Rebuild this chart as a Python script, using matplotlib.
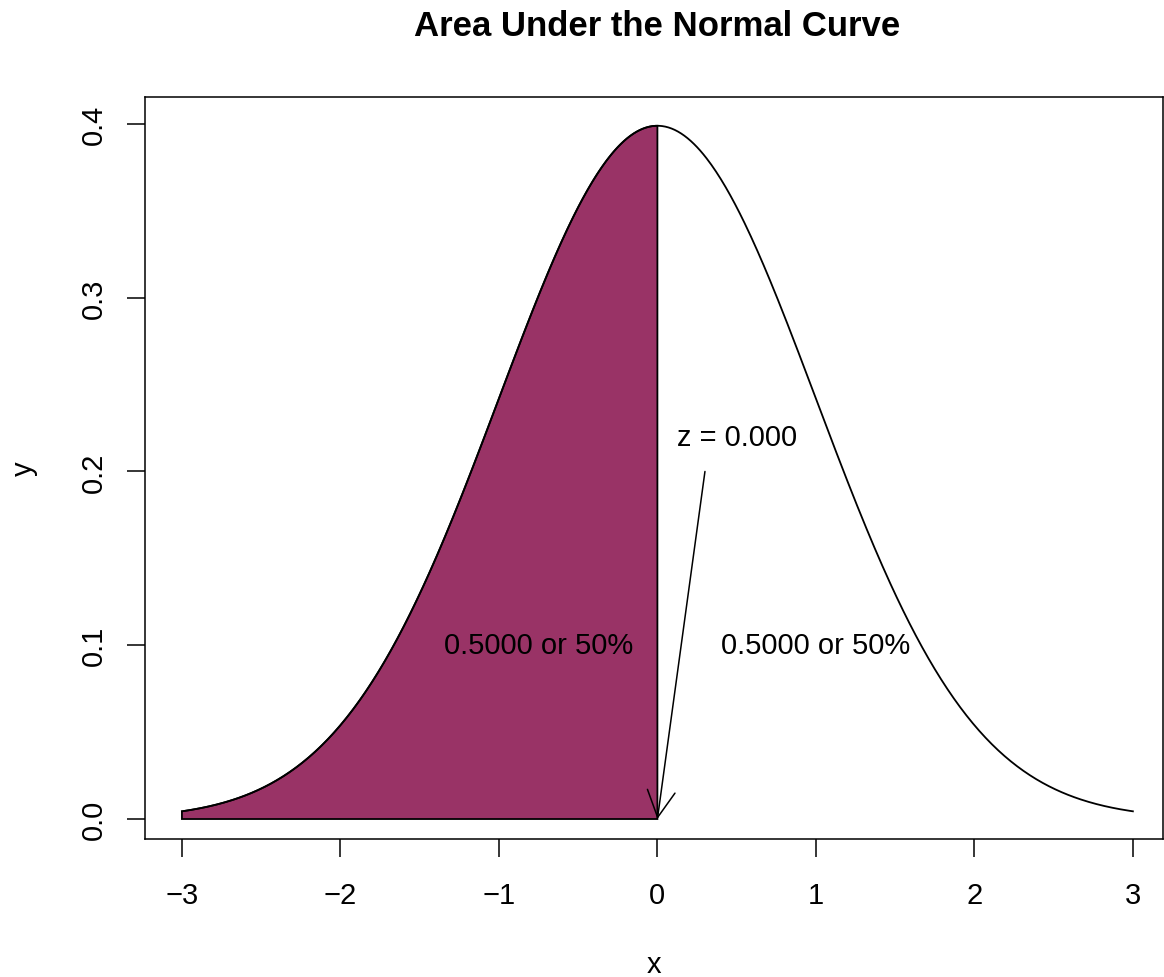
import numpy as np
import matplotlib
matplotlib.use("Agg")
import matplotlib.pyplot as plt

# normal curve parameters and annotation values
mu = 0.0
sigma = 1.0
x_lo, x_hi = -3.0, 3.0
z_value = 0.0
left_label = "0.5000 or 50%"
right_label = "0.5000 or 50%"
z_label = "z = 0.000"
xticks = [-3, -2, -1, 0, 1, 2, 3]
xtick_labels = ["\u22123", "\u22122", "\u22121", "0", "1", "2", "3"]
yticks = [0.0, 0.1, 0.2, 0.3, 0.4]
ytick_labels = ["0.0", "0.1", "0.2", "0.3", "0.4"]

plt.rcParams['font.family'] = ['Liberation Sans', 'DejaVu Sans']
FS = 21

x = np.linspace(x_lo, x_hi, 601)
y = np.exp(-0.5 * ((x - mu) / sigma) ** 2) / (sigma * np.sqrt(2 * np.pi))

fig = plt.figure(figsize=(11.64, 9.78), dpi=100)
ax = fig.add_axes([145 / 1164, 1 - 840 / 978, (1163 - 145) / 1164, (840 - 98) / 978])

# shaded left area
xs = x[x <= z_value]
ys = y[x <= z_value]
px = np.concatenate([xs, [z_value, xs[0]]])
py = np.concatenate([ys, [0, 0]])
ax.fill(px, py, facecolor="#993366", edgecolor="black", linewidth=1.3)

ax.plot(x, y, color="black", linewidth=1.3)

ax.text(-0.75, 0.1, left_label, ha="center", va="center", fontsize=FS)
ax.text(1.0, 0.1, right_label, ha="center", va="center", fontsize=FS)
ax.text(0.5, 0.22, z_label, ha="center", va="center", fontsize=FS)
ax.annotate("", xy=(z_value, 0), xytext=(0.3, 0.2),
            arrowprops=dict(arrowstyle="->,head_length=0.95,head_width=0.5",
                            color="black", lw=1.1, shrinkA=0, shrinkB=0,
                            mutation_scale=20))

ax.set_xlim(-3.233, 3.19)
ax.set_ylim(-0.0115, 0.4155)
ax.set_xticks(xticks)
ax.set_xticklabels(xtick_labels)
ax.set_yticks(yticks)
ax.set_yticklabels(ytick_labels, rotation=90, va="center")
ax.tick_params(direction="out", length=13, width=1.1, labelsize=FS)
ax.tick_params(axis="x", pad=17)
ax.tick_params(axis="y", pad=14)
for s in ax.spines.values():
    s.set_linewidth(1.1)

ax.set_xlabel("x", fontsize=FS, labelpad=30)
ax.set_ylabel("y", fontsize=FS, labelpad=30)
fig.text(657 / 1164, 1 - 27 / 978, "Area Under the Normal Curve",
         ha="center", va="center", fontsize=25, fontweight="bold")

fig.savefig("out.png", dpi=100)
